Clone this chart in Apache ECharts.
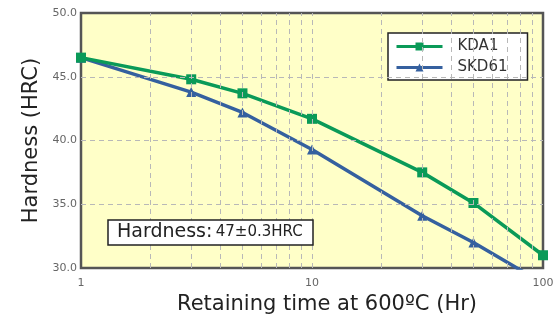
<!DOCTYPE html>
<html>
<head>
<meta charset="utf-8">
<script src="https://cdn.jsdelivr.net/npm/echarts@6/dist/echarts.min.js"></script>
<style>
  html, body { margin: 0; padding: 0; background: #fff; }
  #main { width: 560px; height: 321px; }
</style>
</head>
<body>
<div id="main"></div>
<script>
// retaining time (Hr) and hardness (HRC)
const hours = [1, 3, 5, 10, 30, 50, 100];
const kda1 = [46.5, 44.8, 43.7, 41.7, 37.5, 35.1, 31.0];
const skd61 = [46.5, 43.8, 42.2, 39.3, 34.1, 32.0, 28.8];
// dashed grid lines inside the plot
const gridHours = [2, 3, 4, 5, 6, 7, 8, 9, 10, 20, 30, 40, 50, 60, 70, 80, 90];
const gridHardness = [35, 40, 45];

const chart = echarts.init(document.querySelector('#main'));
const font = 'DejaVu Sans, Verdana, sans-serif';
const dash = { color: '#b8b8b8', type: [5, 4], width: 1 };

const pairs = (ys) => hours.map((h, i) => [h, ys[i]]);

const option = {
    animation: false,
    textStyle: { fontFamily: font },
    grid: {
        left: 81, right: 17, top: 13, bottom: 53,
        show: true,
        backgroundColor: '#FFFFC8',
        borderColor: '#555',
        borderWidth: 2.5
    },
    legend: {
        left: 388, top: 33,
        orient: 'vertical',
        backgroundColor: '#fff',
        borderColor: '#222',
        borderWidth: 1.5,
        borderRadius: 0,
        padding: [6, 20, 5, 7],
        itemGap: 6,
        itemWidth: 46,
        itemHeight: 10,
        lineStyle: { width: 3 },
        textStyle: { fontSize: 15, color: '#333', fontFamily: font, padding: [0, 0, 0, 10] },
        data: ['KDA1', 'SKD61']
    },
    xAxis: {
        type: 'log',
        logBase: 10,
        min: 1, max: 100,
        name: 'Retaining time at 600\u00BAC (Hr)',
        nameLocation: 'middle',
        nameGap: 24,
        nameTextStyle: { fontSize: 21, color: '#222', padding: [0, 0, 0, 30] },
        axisLine: { show: false },
        axisTick: { show: false },
        axisLabel: { fontSize: 11, color: '#666', margin: 10 },
        splitLine: { show: false }
    },
    yAxis: {
        type: 'value',
        min: 30, max: 50, interval: 5,
        name: 'Hardness (HRC)',
        nameLocation: 'middle',
        nameGap: 38,
        nameTextStyle: { fontSize: 21, color: '#222' },
        axisLine: { show: false },
        axisTick: { show: false },
        axisLabel: { fontSize: 11, color: '#666', margin: 4, formatter: (v) => v.toFixed(1) },
        splitLine: { show: false }
    },
    series: [
        {
            name: 'grid',
            type: 'line',
            data: [],
            silent: true,
            z: 1,
            markLine: {
                silent: true,
                symbol: 'none',
                label: { show: false },
                lineStyle: dash,
                data: gridHours.map((h) => ({ xAxis: h }))
                    .concat(gridHardness.map((v) => ({ yAxis: v })))
            }
        },
        {
            name: 'KDA1',
            type: 'line',
            data: pairs(kda1),
            symbol: 'rect',
            symbolSize: 10,
            clip: true,
            color: '#0a9a58',
            lineStyle: { width: 3.5 },
            z: 3
        },
        {
            name: 'SKD61',
            type: 'line',
            data: pairs(skd61),
            symbol: 'triangle',
            symbolSize: 10,
            clip: true,
            color: '#35609f',
            lineStyle: { width: 3.5 },
            z: 2
        }
    ],
    graphic: [
        {
            type: 'rect',
            shape: { x: 108, y: 220, width: 205, height: 25 },
            style: { fill: '#fff', stroke: '#222', lineWidth: 1.5 },
            z: 10
        },
        {
            type: 'text',
            left: 117, top: 223,
            style: {
                text: '{a|Hardness:} {b|47\u00B10.3HRC}',
                rich: {
                    a: { fontSize: 19, fill: '#222', fontFamily: font },
                    b: { fontSize: 15, fill: '#222', fontFamily: font }
                }
            },
            z: 11
        }
    ]
};
chart.setOption(option);
</script>
</body>
</html>
